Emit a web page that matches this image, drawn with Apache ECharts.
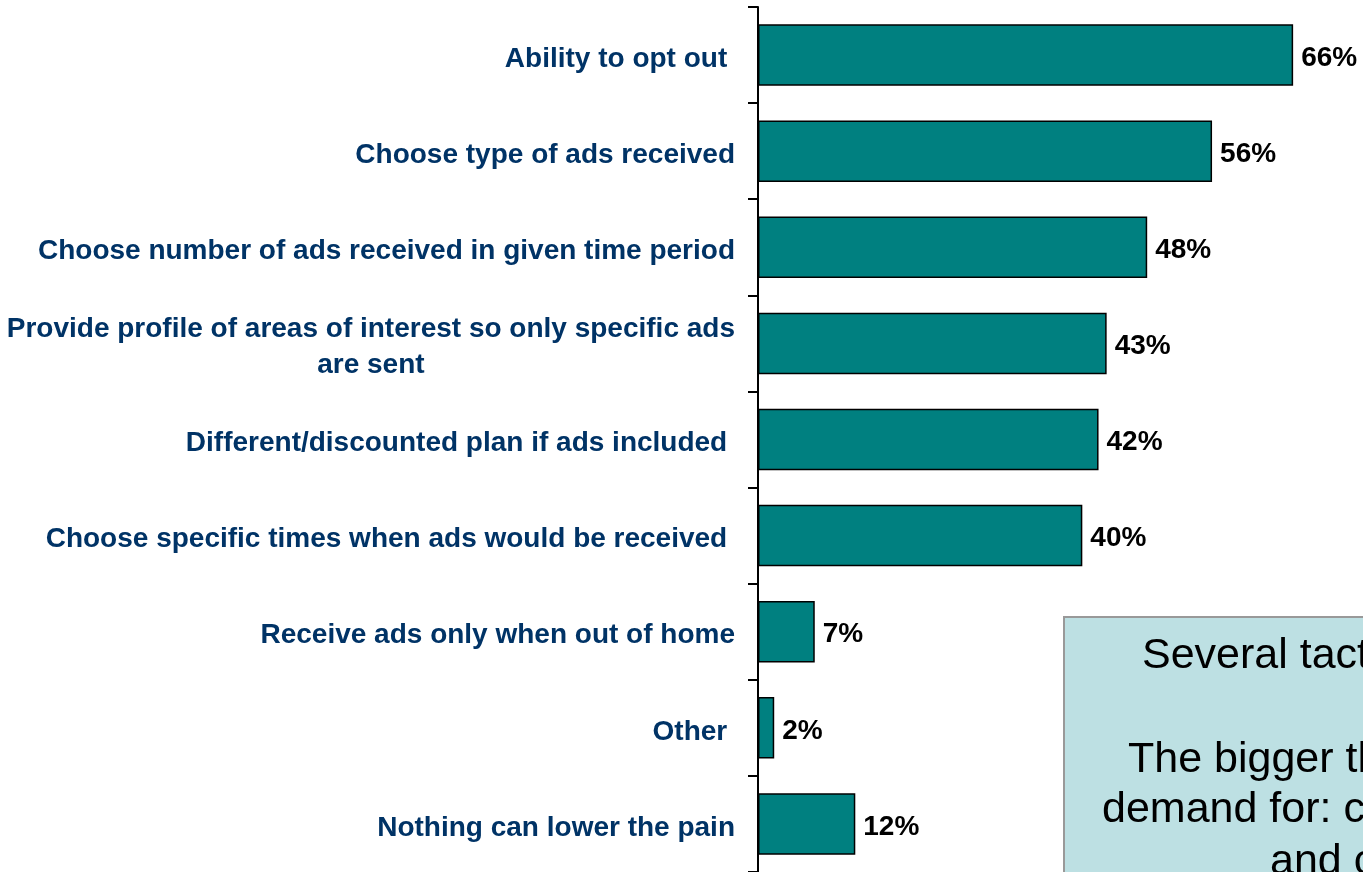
<!DOCTYPE html>
<html>
<head>
<meta charset="utf-8">
<script src="https://cdn.jsdelivr.net/npm/echarts@6/dist/echarts.min.js"></script>
<style>
  html, body { margin: 0; padding: 0; background: #ffffff; }
  #chart { width: 1363px; height: 872px; }
</style>
</head>
<body>
<div id="chart"></div>
<script>
// Tactics that would lower the pain of receiving ads (share of respondents)
const categories = [
  'Ability to opt out ',
  'Choose type of ads received',
  'Choose number of ads received in given time period',
  'Provide profile of areas of interest so only specific ads\nare sent',
  'Different/discounted plan if ads included ',
  'Choose specific times when ads would be received ',
  'Receive ads only when out of home',
  'Other ',
  'Nothing can lower the pain'
];
const values = [66, 56, 48, 43, 42, 40, 7, 2, 12];

// Callout box text lines
const noteLines = ['Several tact', 'The bigger th', 'demand for: c', 'and c'];

const FONT = '"Liberation Sans", Arial, Helvetica, sans-serif';

const chart = echarts.init(document.getElementById('chart'));

chart.setOption({
  backgroundColor: '#ffffff',
  animation: false,
  grid: { left: 758, right: 5, top: 7, bottom: -1, containLabel: false },
  xAxis: {
    type: 'value',
    min: 0,
    max: 74,
    show: false
  },
  yAxis: {
    type: 'category',
    data: categories,
    inverse: true,
    axisLine: { show: true, lineStyle: { color: '#000000', width: 2 } },
    axisTick: { show: true, length: 10, lineStyle: { color: '#000000', width: 2 } },
    splitLine: { show: false },
    axisLabel: {
      interval: 0,
      margin: 23,
      padding: [8, 0, 0, 0],
      formatter: function (v) {
        return v.split('\n').map(function (l) { return '{t|' + l + '}'; }).join('\n');
      },
      rich: {
        t: {
          fontFamily: FONT,
          fontSize: 28,
          fontWeight: 'bold',
          color: '#003366',
          align: 'center',
          lineHeight: 36
        }
      }
    }
  },
  series: [{
    type: 'bar',
    data: values,
    barCategoryGap: '36%',
    itemStyle: { color: '#008080', borderColor: '#000000', borderWidth: 1.5 },
    label: {
      show: true,
      position: 'right',
      distance: 8,
      offset: [0, 3],
      formatter: '{c}%',
      fontFamily: FONT,
      fontSize: 28,
      fontWeight: 'bold',
      color: '#000000'
    }
  }],
  graphic: [
    {
      type: 'rect',
      shape: { x: 1064, y: 617, width: 420, height: 400 },
      style: { fill: '#bde0e3', stroke: '#999999', lineWidth: 2 },
      z: 10
    },
    { type: 'text', x: 1142, y: 656, z: 11,
      style: { text: noteLines[0], font: '43px ' + FONT, fill: '#000000', textAlign: 'left', textVerticalAlign: 'middle' } },
    { type: 'text', x: 1128, y: 760, z: 11,
      style: { text: noteLines[1], font: '43px ' + FONT, fill: '#000000', textAlign: 'left', textVerticalAlign: 'middle' } },
    { type: 'text', x: 1102, y: 810, z: 11,
      style: { text: noteLines[2], font: '43px ' + FONT, fill: '#000000', textAlign: 'left', textVerticalAlign: 'middle' } },
    { type: 'text', x: 1270, y: 862, z: 11,
      style: { text: noteLines[3], font: '43px ' + FONT, fill: '#000000', textAlign: 'left', textVerticalAlign: 'middle' } }
  ]
});
</script>
</body>
</html>
